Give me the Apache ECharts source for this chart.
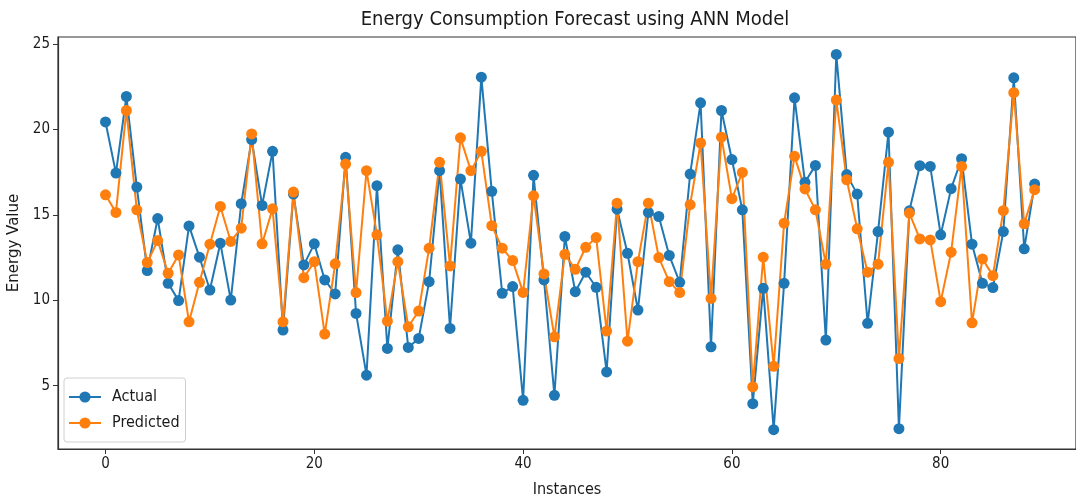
<!DOCTYPE html>
<html>
<head>
<meta charset="utf-8">
<script src="https://cdn.jsdelivr.net/npm/echarts@6/dist/echarts.min.js"></script>
<style>
html,body{margin:0;padding:0;background:#fff;}
#chart{width:1076px;height:501px;}
</style>
</head>
<body>
<div id="chart"></div>
<script>
const instances = Array.from({length: 90}, (_, i) => i);
const actual = [
  20.43, 17.44, 21.92, 16.62, 11.74, 14.78, 10.99, 9.98, 14.35, 12.52,
  10.60, 13.34, 10.01, 15.65, 19.40, 15.55, 18.71, 8.26, 16.21, 12.07,
  13.30, 11.19, 10.37, 18.36, 9.23, 5.62, 16.70, 7.18, 12.95, 7.24,
  7.77, 11.09, 17.58, 8.35, 17.09, 13.34, 23.05, 16.37, 10.41, 10.80,
  4.15, 17.31, 11.19, 4.44, 13.73, 10.50, 11.64, 10.76, 5.81, 15.33,
  12.75, 9.43, 15.14, 14.90, 12.62, 11.05, 17.38, 21.55, 7.28, 21.10,
  18.23, 15.29, 3.95, 10.70, 2.43, 10.99, 21.84, 16.90, 17.89, 7.67,
  24.38, 17.35, 16.21, 8.65, 14.02, 19.83, 2.49, 15.23, 17.87, 17.83,
  13.83, 16.53, 18.28, 13.28, 10.99, 10.74, 14.02, 23.01, 13.01, 16.80
];
const predicted = [
  16.17, 15.14, 21.10, 15.29, 12.21, 13.49, 11.58, 12.65, 8.74, 11.05,
  13.28, 15.49, 13.44, 14.22, 19.73, 13.30, 15.35, 8.74, 16.33, 11.32,
  12.26, 8.02, 12.13, 17.97, 10.45, 17.58, 13.83, 8.78, 12.26, 8.45,
  9.37, 13.05, 18.07, 12.01, 19.50, 17.58, 18.71, 14.36, 13.05, 12.32,
  10.46, 16.11, 11.54, 7.86, 12.69, 11.81, 13.10, 13.67, 8.20, 15.68,
  7.61, 12.26, 15.68, 12.50, 11.09, 10.45, 15.59, 19.20, 10.11, 19.54,
  15.94, 17.48, 4.93, 12.52, 6.14, 14.51, 18.42, 16.51, 15.29, 12.11,
  21.71, 17.05, 14.18, 11.64, 12.11, 18.07, 6.59, 15.10, 13.59, 13.53,
  9.92, 12.81, 17.83, 8.68, 12.42, 11.44, 15.24, 22.14, 14.47, 16.47
];
const xTicks = [0, 20, 40, 60, 80];
const yTicks = [5, 10, 15, 20, 25];

const cond = "'DejaVu Sans Condensed', 'DejaVu Sans', sans-serif";
const chart = echarts.init(document.getElementById('chart'), null, {renderer: 'canvas'});
const toPairs = arr => arr.map((v, i) => [instances[i], v]);

chart.setOption({
  animation: false,
  backgroundColor: '#ffffff',
  title: {
    text: 'Energy Consumption Forecast using ANN Model',
    left: 570, top: 5, textAlign: 'center',
    textStyle: {fontFamily: cond, fontSize: 20, fontWeight: 'normal', color: '#1a1a1a'}
  },
  grid: {
    left: 58, top: 37, right: 0, bottom: 52,
    outerBoundsMode: 'none', containLabel: false,
    show: true, borderColor: '#333', borderWidth: 1.2, backgroundColor: '#fff'
  },
  legend: {
    left: 64, top: 378, orient: 'vertical', itemGap: 10,
    itemWidth: 32, itemHeight: 14,
    padding: [11, 6, 11, 4],
    borderColor: '#d0d0d0', borderWidth: 1, borderRadius: 3, backgroundColor: '#fff',
    textStyle: {fontFamily: cond, fontSize: 16, color: '#1a1a1a', padding: [0, 0, 0, 6]},
    data: ['Actual', 'Predicted']
  },
  xAxis: {
    type: 'value', min: -4.55, max: 92.96,
    name: 'Instances', nameLocation: 'middle', nameGap: 33,
    nameTextStyle: {fontFamily: cond, fontSize: 16, color: '#1a1a1a'},
    axisLine: {show: true, onZero: false, lineStyle: {color: '#333', width: 1.2}},
    axisTick: {show: true, customValues: xTicks, length: 5, lineStyle: {color: '#333'}},
    axisLabel: {customValues: xTicks, fontFamily: cond, fontSize: 15, color: '#1a1a1a', margin: 8},
    splitLine: {show: false}
  },
  yAxis: {
    type: 'value', min: 1.3, max: 25.4,
    name: 'Energy Value', nameLocation: 'middle', nameGap: 33, nameRotate: 90,
    nameTextStyle: {fontFamily: "'DejaVu Sans', sans-serif", fontSize: 15, color: '#1a1a1a'},
    axisLine: {show: true, onZero: false, lineStyle: {color: '#333', width: 1.2}},
    axisTick: {show: true, customValues: yTicks, length: 5, lineStyle: {color: '#333'}},
    axisLabel: {customValues: yTicks, fontFamily: cond, fontSize: 15, color: '#1a1a1a', margin: 8},
    splitLine: {show: false}
  },
  series: [
    {
      name: 'Actual', type: 'line', data: toPairs(actual),
      symbol: 'circle', symbolSize: 11, showAllSymbol: true,
      itemStyle: {color: '#1f77b4'},
      lineStyle: {color: '#1f77b4', width: 2}
    },
    {
      name: 'Predicted', type: 'line', data: toPairs(predicted),
      symbol: 'circle', symbolSize: 11, showAllSymbol: true,
      itemStyle: {color: '#ff7f0e'},
      lineStyle: {color: '#ff7f0e', width: 2}
    }
  ]
});
</script>
</body>
</html>
